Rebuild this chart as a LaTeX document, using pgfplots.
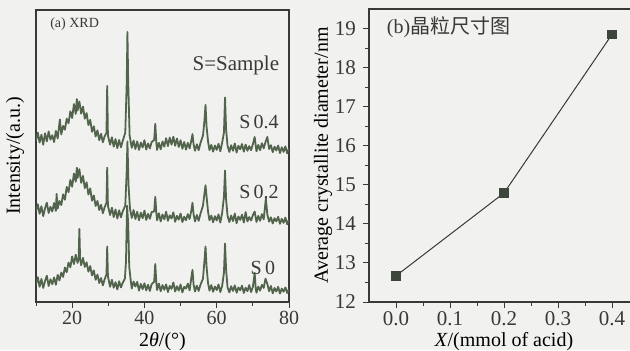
\documentclass[border=0pt]{standalone}
\usepackage{pgfplots}
\pgfplotsset{compat=1.18}
\usepackage{fontspec}
\setmainfont{Liberation Serif}
\newfontfamily\cjk{Noto Sans CJK SC}
\definecolor{bg}{RGB}{241,241,239}
\definecolor{xrd}{RGB}{82,100,76}
\definecolor{ink}{RGB}{55,58,55}
\definecolor{mk}{RGB}{60,70,58}

\pgfplotstableread{
x y
10 6.0
10.5 8.5
11 5.2
11.5 7.9
12 4.8
12.5 7.2
13 9.0
13.5 5.5
14 7.8
14.5 6.1
15 8.4
15.5 5.9
16 9.3
16.5 7.4
17 10.1
17.5 8.6
18 11.8
18.5 10.2
19 13.5
19.5 11.9
20 15.6
20.5 13.0
21 16.2
21.5 13.4
21.8 15.0
22 25.0
22.2 14.8
22.5 12.6
23 15.1
23.5 12.0
24 13.6
24.5 10.4
25 12.3
25.5 9.1
26 10.8
26.5 7.6
27 9.4
27.5 6.5
28 8.2
28.5 5.7
29 7.8
29.5 9.5
29.7 19.0
29.9 8.8
30.5 5.2
31 7.6
31.5 4.9
32 6.8
32.5 4.3
33 7.1
33.5 5.0
34 6.6
34.6 8.0
34.9 14.0
35.2 33.0
35.5 27.0
35.8 12.0
36.2 7.5
36.5 4.6
37 7.0
37.5 5.3
38 6.9
38.5 3.9
39 6.2
39.5 4.4
40 6.4
40.5 4.0
41 5.9
41.5 3.8
42 6.1
42.7 7.0
43.0 13.0
43.3 6.5
43.5 4.1
44 6.3
44.5 3.7
45 5.8
45.5 4.2
46 6.0
46.5 3.4
47 5.5
47.5 4.5
48 6.7
48.5 3.6
49 5.4
49.5 3.9
50 6.0
50.5 3.3
51 5.2
51.5 4.6
52 6.3
52.5 4.0
53.0 8.5
53.3 11.0
53.6 6.0
54 3.6
54.5 5.6
55 3.8
55.5 5.9
56.2 8.0
56.6 14.0
56.9 19.0
57.2 12.0
57.6 6.5
58 3.9
58.5 5.8
59 3.5
59.5 5.3
60 4.1
60.5 6.0
61 3.4
61.5 5.5
62.0 10.0
62.3 20.0
62.6 11.0
63 5.0
63.5 3.3
64 5.4
64.5 3.8
65 5.7
65.5 3.2
66 5.0
66.5 4.0
67 5.6
67.5 3.1
68 4.9
68.5 3.7
69 5.8
69.5 3.4
70 5.1
70.5 10.0
70.8 4.5
71 3.2
71.5 5.3
72 3.9
72.5 5.9
73 4.8
73.5 8.0
74 6.2
74.5 3.7
75 5.5
75.5 3.0
76 4.8
76.5 3.6
77 5.2
77.5 2.9
78 4.6
78.5 3.5
79 5.0
79.5 3.1
80 4.4
}\sZero

\pgfplotstableread{
x y
10 31.0
10.5 33.5
11 30.2
11.5 32.8
12 29.4
12.5 32.1
13 34.0
13.5 30.5
14 32.6
14.5 31.0
15 33.9
15.5 31.2
15.7 37.0
16 32.0
16.5 34.6
17 33.2
17.5 36.9
18 35.0
18.5 39.4
19 37.6
19.5 41.8
20 39.5
20.5 44.0
21 41.2
21.3 46.0
21.5 42.5
22 45.5
22.5 40.8
23 43.2
23.5 39.0
24 41.0
24.5 36.8
25 38.9
25.5 34.7
26 36.5
26.5 32.9
27 34.6
27.5 31.5
28 33.3
28.5 30.4
29 32.5
29.5 34.0
29.7 46.0
29.9 33.0
30.5 29.8
31 32.3
31.5 29.1
32 31.7
32.5 28.6
33 31.4
33.5 29.0
34 31.1
34.7 33.0
35.1 45.0
35.3 55.0
35.6 40.0
36.0 32.0
36.5 28.8
37 31.5
37.5 28.4
38 30.9
38.5 28.0
39 30.6
39.5 28.7
40 31.3
40.5 28.1
41 30.2
41.5 28.5
42 30.8
42.7 31.0
43.0 36.0
43.3 30.5
43.5 28.0
44 30.4
44.5 27.6
45 30.0
45.5 28.3
46 30.9
46.5 27.8
47 29.7
47.5 28.6
48 30.7
48.5 27.5
49 29.5
49.5 28.2
50 30.3
50.5 27.4
51 29.2
51.5 28.0
52 30.1
52.5 28.4
53.0 31.5
53.3 34.0
53.6 30.0
54 27.6
54.5 29.8
55 27.8
55.5 30.2
56.2 33.0
56.6 37.0
56.9 40.0
57.2 36.0
57.6 31.0
58 28.0
58.5 29.6
59 27.3
59.5 29.4
60 27.9
60.5 30.0
61 27.2
61.5 30.5
62.0 36.0
62.3 45.0
62.6 35.0
63 29.5
63.5 27.4
64 29.6
64.5 27.7
65 30.3
65.5 27.0
66 29.3
66.5 28.1
67 29.9
67.5 27.2
68 30.8
68.5 27.6
69 29.1
69.5 27.9
70 29.7
70.5 31.0
71 27.4
71.5 29.5
72 27.8
72.5 30.1
73 28.3
73.6 35.5
74 30.0
74.5 27.5
75 29.0
75.5 26.9
76 28.7
76.5 27.6
77 29.2
77.5 26.8
78 28.5
78.5 27.1
79 28.9
79.5 26.6
80 28.2
}\sTwo

\pgfplotstableread{
x y
10 55.2
10.5 58.0
11 54.6
11.5 57.3
12 53.9
12.5 57.8
13 55.0
13.5 58.4
14 55.6
14.5 57.1
15 54.8
15.5 58.6
16 56.0
16.6 62.5
17 57.4
17.5 60.3
18 59.0
18.5 62.8
19 61.2
19.5 65.3
20 63.0
20.5 67.8
21 64.4
21.3 69.5
21.5 65.6
22 68.7
22.5 64.5
23 66.9
23.5 62.8
24 64.7
24.5 60.6
25 62.4
25.5 58.3
26 60.2
26.5 56.7
27 58.8
27.5 55.4
28 57.6
28.5 54.7
29 56.8
29.5 58.0
29.7 74.0
29.9 57.0
30.5 53.9
31 56.4
31.5 53.2
32 55.8
32.5 52.7
33 55.5
33.5 53.0
34 55.2
34.7 58.0
35.1 75.0
35.3 92.5
35.5 76.0
35.9 57.0
36.5 52.8
37 55.3
37.5 52.4
38 55.0
38.5 52.1
39 54.6
39.5 52.9
40 55.4
40.5 52.2
41 54.3
41.5 52.6
42 54.8
42.7 55.5
43.0 61.0
43.3 54.5
43.5 52.1
44 54.5
44.5 52.3
45 55.0
45.5 53.2
46 56.1
46.5 53.4
47 56.3
47.5 53.9
48 56.6
48.5 53.5
49 56.0
49.5 53.1
50 55.4
50.5 52.5
51 54.8
51.5 52.2
52 54.5
52.5 52.6
53.0 55.5
53.3 57.5
53.6 54.0
54 51.8
54.5 54.0
55 52.0
55.5 54.4
56.2 57.0
56.6 62.0
56.9 67.5
57.2 60.0
57.6 55.0
58 52.0
58.5 53.8
59 51.5
59.5 53.6
60 52.1
60.5 54.2
61 51.6
61.5 54.5
62.0 58.0
62.3 70.0
62.6 59.0
63 53.5
63.5 51.4
64 53.7
64.5 51.8
65 54.3
65.5 51.2
66 53.5
66.5 52.3
67 54.1
67.5 51.5
68 53.9
68.5 51.8
69 53.4
69.5 52.0
70 54.0
70.5 56.5
71 51.6
71.5 53.8
72 52.0
72.5 54.4
73 52.6
73.5 54.8
74 56.5
74.5 52.4
75 53.7
75.5 51.3
76 53.2
76.5 51.9
77 53.6
77.5 51.0
78 53.0
78.5 51.4
79 53.3
79.5 50.9
80 52.6
}\sFour

\pgfplotstableread{
x y
0.0 12.67
0.2 14.79
0.4 18.85
}\grain

\begin{document}
\begin{tikzpicture}
\fill[bg] (0,0) rectangle (315pt,175pt);
\pgfplotsset{
  every axis/.append style={
    scale only axis,
    anchor=south west,
    axis line style={ink, line width=0.6pt},
    tick style={ink, line width=0.5pt},
    tick align=outside,
    tick pos=left,
    major tick length=3pt,
    minor tick length=2pt,
    tick label style={font=\fontsize{10}{12}\selectfont, text=ink},
    xticklabel style={inner ysep=1.5pt},
    label style={font=\fontsize{9}{11}\selectfont, text=ink},
    /pgf/number format/assume math mode=true,
    clip=true,
  },
}
\begin{axis}[
  at={(18pt,24pt)},
  width=126.5pt, height=146pt,
  xmin=10, xmax=80, ymin=0, ymax=100,
  xtick={20,40,60,80},
  minor xtick={10,30,50,70},
  ytick=\empty,
  xlabel={2\textit{θ}/(°)},
  ylabel={Intensity/(a.u.)},
  xlabel style={font=\fontsize{8.5}{10}\selectfont},
  every axis x label/.style={at={(axis description cs:0.5,-0.135)},anchor=center},
  every axis y label/.style={at={(axis description cs:-0.083,0.5)},rotate=90,anchor=center},
]
\addplot[xrd, line width=0.9pt, line join=round] table[x=x,y=y] {\sZero};
\addplot[xrd, line width=0.9pt, line join=round] table[x=x,y=y] {\sTwo};
\addplot[xrd, line width=0.9pt, line join=round] table[x=x,y=y] {\sFour};
\node[anchor=west, font=\fontsize{7}{8}\selectfont, text=ink] at (axis cs:12,95) {(a) XRD};
\node[font=\fontsize{10.5}{12}\selectfont, text=ink] at (axis cs:65.3,81) {S=Sample};
\node[font=\fontsize{10}{12}\selectfont, text=ink] at (axis cs:71.7,61.6) {S\,0.4};
\node[font=\fontsize{10}{12}\selectfont, text=ink] at (axis cs:71.7,37.7) {S\,0.2};
\node[font=\fontsize{10}{12}\selectfont, text=ink] at (axis cs:72.8,11.6) {S\,0};
\end{axis}

\begin{axis}[
  at={(184.5pt,24pt)},
  width=135pt, height=146.5pt,
  xmin=-0.05, xmax=0.45, ymin=12, ymax=19.5,
  xtick={0,0.1,0.2,0.3,0.4},
  minor x tick num=1,
  ytick={12,13,...,19},
  minor y tick num=1,
  tick label style={font=\fontsize{10.5}{12}\selectfont},
  xticklabel style={/pgf/number format/.cd, fixed, fixed zerofill, precision=1},
  xlabel={\textit{X}/(mmol of acid)},
  ylabel={Average crystallite diameter/nm},
  xlabel style={font=\fontsize{8.5}{10}\selectfont},
  ylabel style={font=\fontsize{10}{12}\selectfont},
  every axis x label/.style={at={(axis description cs:0.5,-0.135)},anchor=center},
  every axis y label/.style={at={(axis description cs:-0.17,0.5)},rotate=90,anchor=center},
]
\addplot[ink, line width=0.5pt, mark=square*, mark size=2.1pt, mark options={fill=mk, draw=mk}] table[x=x,y=y] {\grain};
\node[anchor=west, font=\fontsize{10}{12}\selectfont, text=ink] at (axis cs:-0.03,19.03) {(b)\cjk 晶粒尺寸图};
\end{axis}
\pgfresetboundingbox
\path (0,0) rectangle (315pt,175pt);
\end{tikzpicture}
\end{document}
